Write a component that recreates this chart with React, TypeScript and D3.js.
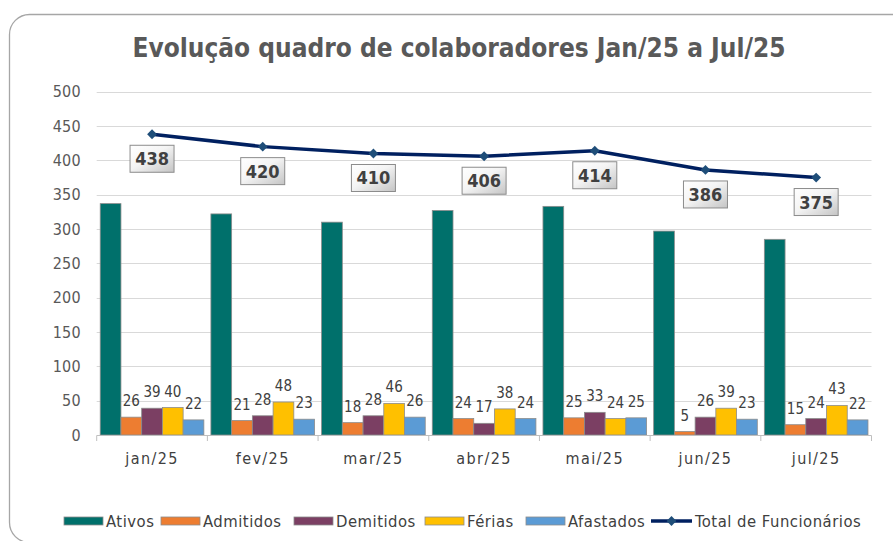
import React from "react";
import * as d3 from "d3";

const categories = ["jan/25", "fev/25", "mar/25", "abr/25", "mai/25", "jun/25", "jul/25"];
const ativos = [337, 322, 310, 327, 333, 297, 285];
const admitidos = [26, 21, 18, 24, 25, 5, 15];
const demitidos = [39, 28, 28, 17, 33, 26, 24];
const ferias = [40, 48, 46, 38, 24, 39, 43];
const afastados = [22, 23, 26, 24, 25, 23, 22];
const totalFuncionarios = [438, 420, 410, 406, 414, 386, 375];
const yTicks = [0, 50, 100, 150, 200, 250, 300, 350, 400, 450, 500];

const seriesNames = ["Ativos", "Admitidos", "Demitidos", "Férias", "Afastados"];
const seriesValues = [ativos, admitidos, demitidos, ferias, afastados];
const seriesColors = ["#00706B", "#ED7D31", "#7B3F63", "#FFC000", "#5B9BD5"];
const seriesLabeled = [false, true, true, true, true];
const lineName = "Total de Funcionários";

const W = 893;
const H = 541;
const FONT = "'DejaVu Sans Condensed', 'DejaVu Sans', sans-serif";

export default function App() {
  const x = d3.scaleBand<string>().domain(categories).range([96.7, 871.5]).paddingInner(0).paddingOuter(0);
  const inner = d3.scaleBand<string>().domain(seriesNames).range([0, x.bandwidth()]).paddingInner(0).paddingOuter(0.17);
  const y = d3.scaleLinear().domain([0, 500]).range([435, 91.7]);
  const line = d3
    .line<number>()
    .x((_, i) => (x(categories[i]) as number) + x.bandwidth() / 2)
    .y((d) => y(d));
  const diamond = d3.symbol().type(d3.symbolSquare).size(48)() as string;

  const legendX = [64, 161, 294, 425, 526];
  const legendLineX = 651;
  const legendY = 521;

  return (
    <svg width={W} height={H} style={{ position: "absolute", left: 0, top: 0, fontFamily: FONT }}>
      <defs>
        <linearGradient id="boxGrad" x1="0" y1="0" x2="1" y2="1">
          <stop offset="0" stopColor="#ffffff" />
          <stop offset="0.45" stopColor="#f4f4f4" />
          <stop offset="1" stopColor="#c4c4c4" />
        </linearGradient>
      </defs>
      <rect x={0} y={0} width={W} height={H} fill="#ffffff" />
      <rect x={9.5} y={14.5} width={1000} height={528} rx={20} ry={20} fill="#ffffff" stroke="#a6a6a6" strokeWidth={1.3} />

      <text x={459} y={57} textAnchor="middle" fontSize={26} fontWeight="bold" fill="#595959">
        Evolução quadro de colaboradores Jan/25 a Jul/25
      </text>

      {/* gridlines */}
      {yTicks.map((t) =>
        t === 0 ? null : (
          <line key={"g" + t} x1={96.7} x2={871.5} y1={Math.round(y(t)) + 0.5} y2={Math.round(y(t)) + 0.5} stroke="#d9d9d9" strokeWidth={1} />
        )
      )}
      {yTicks.map((t) => (
        <text key={"yt" + t} x={81} y={y(t)} dy="0.36em" textAnchor="end" fontSize={16} letterSpacing={0.3} fill="#595959">
          {t}
        </text>
      ))}

      {/* bars */}
      {categories.map((c, ci) => (
        <g key={c} transform={`translate(${x(c)},0)`}>
          {seriesNames.map((s, si) => {
            const v = seriesValues[si][ci];
            return (
              <rect
                key={s}
                x={inner(s)}
                y={y(v)}
                width={inner.bandwidth()}
                height={y(0) - y(v)}
                fill={seriesColors[si]}
                stroke="#8c8c8c"
                strokeWidth={0.8}
              />
            );
          })}
          {seriesNames.map((s, si) => {
            if (!seriesLabeled[si]) return null;
            const v = seriesValues[si][ci];
            return (
              <text
                key={"l" + s}
                x={(inner(s) as number) + inner.bandwidth() / 2}
                y={y(v) - 11}
                textAnchor="middle"
                fontSize={15}
                fill="#404040"
              >
                {v}
              </text>
            );
          })}
        </g>
      ))}

      {/* x axis */}
      <line x1={96.7} x2={871.5} y1={435.5} y2={435.5} stroke="#bfbfbf" strokeWidth={1} />
      {[...categories.map((c) => x(c) as number), 871.5].map((px, i) => (
        <line key={"xt" + i} x1={px} x2={px} y1={435.5} y2={441} stroke="#bfbfbf" strokeWidth={1} />
      ))}
      {categories.map((c) => (
        <text key={"xl" + c} x={(x(c) as number) + x.bandwidth() / 2} y={463.5} textAnchor="middle" fontSize={16} letterSpacing={1.4} fill="#404040">
          {c}
        </text>
      ))}

      {/* total line */}
      <path d={line(totalFuncionarios) as string} fill="none" stroke="#002060" strokeWidth={3.5} strokeLinejoin="round" />
      {totalFuncionarios.map((v, i) => {
        const cx = (x(categories[i]) as number) + x.bandwidth() / 2;
        return (
          <path key={"m" + i} d={diamond} transform={`translate(${cx},${y(v)}) rotate(45)`} fill="#1F4E79" />
        );
      })}
      {totalFuncionarios.map((v, i) => {
        const cx = (x(categories[i]) as number) + x.bandwidth() / 2;
        const top = y(v) + 11;
        return (
          <g key={"b" + i}>
            <rect x={cx - 22} y={top} width={44} height={27} fill="url(#boxGrad)" stroke="#8c8c8c" strokeWidth={1} />
            <text x={cx} y={top + 20} textAnchor="middle" fontSize={18} fontWeight="bold" fill="#404040">
              {v}
            </text>
          </g>
        );
      })}

      {/* legend */}
      {seriesNames.map((s, si) => (
        <g key={"lg" + s}>
          <rect x={legendX[si]} y={legendY - 4} width={39} height={8} fill={seriesColors[si]} stroke="#8c8c8c" strokeWidth={0.8} />
          <text x={legendX[si] + 42} y={legendY} dy="0.36em" fontSize={16.5} letterSpacing={0.5} fill="#404040">
            {s}
          </text>
        </g>
      ))}
      <g>
        <line x1={legendLineX} x2={legendLineX + 41} y1={legendY} y2={legendY} stroke="#002060" strokeWidth={3.5} />
        <path d={diamond} transform={`translate(${legendLineX + 20.5},${legendY}) rotate(45)`} fill="#1F4E79" />
        <text x={legendLineX + 44} y={legendY} dy="0.36em" fontSize={16.5} letterSpacing={0.5} fill="#404040">
          {lineName}
        </text>
      </g>
    </svg>
  );
}
